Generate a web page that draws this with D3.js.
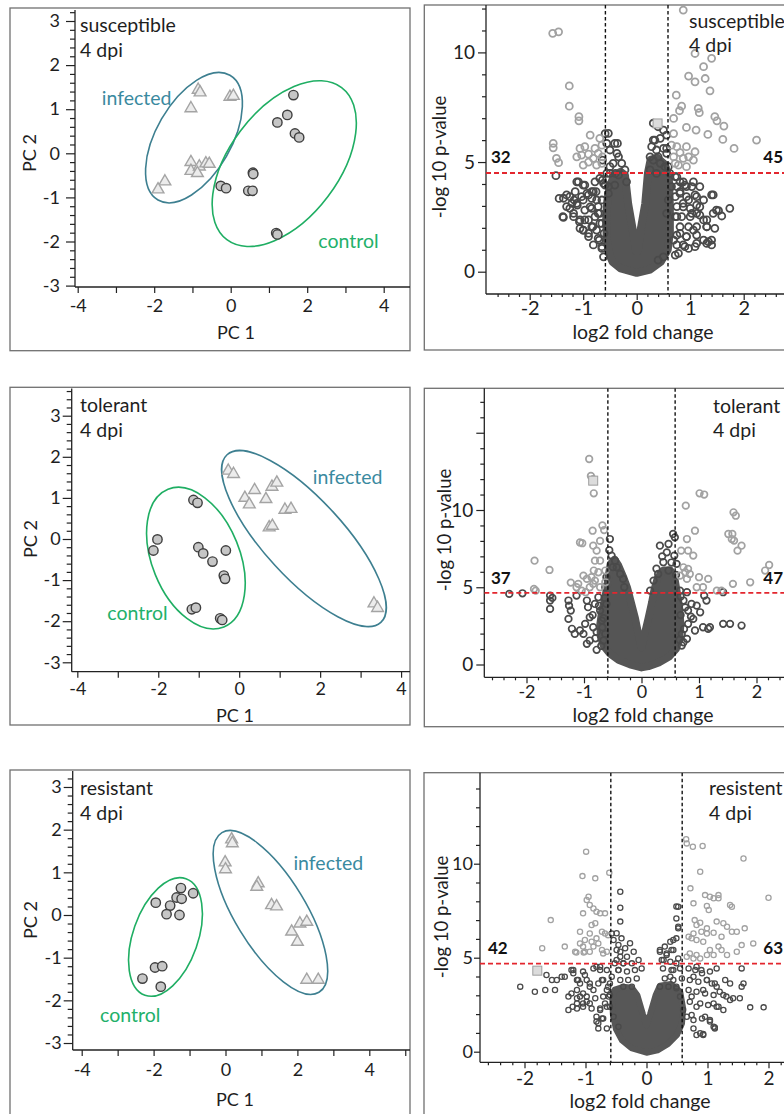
<!DOCTYPE html>
<html><head><meta charset="utf-8">
<script src="https://cdn.jsdelivr.net/npm/d3@7"></script>
<style>
body{margin:0;background:#fff}
svg{display:block;font-family:Lato,"Open Sans",sans-serif}
</style></head><body>
<svg id="c" width="784" height="1114"></svg>
<script>
// ---------------- PCA data (PC1, PC2) ----------------
const susControl = [[1.64,1.32],[1.48,0.87],[1.22,0.70],[1.68,0.45],[1.79,0.36],[0.58,-0.44],[0.59,-0.47],[-0.26,-0.74],[-0.12,-0.79],[0.46,-0.85],[0.57,-0.85],[1.19,-1.81],[1.22,-1.84]];
const susInfected = [[-0.85,1.44],[-0.80,1.38],[-1.04,1.02],[-0.02,1.28],[0.07,1.30],[-1.04,-0.20],[-1.04,-0.40],[-0.82,-0.30],[-0.87,-0.45],[-0.65,-0.23],[-0.56,-0.24],[-1.72,-0.64],[-1.90,-0.82]];
const susEllipseControl = [[2.90,1.49],[-0.10,-1.96],0.574];
const susEllipseInfected = [[-0.02,1.77],[-1.90,-1.06],0.52];

const tolControl = [[-1.13,0.95],[-1.03,0.88],[-2.02,-0.01],[-2.12,-0.28],[-1.01,-0.20],[-0.89,-0.35],[-0.66,-0.55],[-0.33,-0.28],[-0.38,-0.89],[-0.35,-0.97],[-1.17,-1.71],[-1.07,-1.67],[-0.47,-1.93],[-0.42,-1.97]];
const tolInfected = [[-0.27,1.66],[-0.14,1.58],[0.14,1.00],[0.25,0.84],[0.38,1.19],[0.66,0.97],[0.81,1.27],[0.93,1.37],[1.13,0.71],[1.28,0.73],[0.74,0.28],[0.82,0.32],[3.33,-1.57],[3.42,-1.68]];
const tolEllipseControl = [[-1.76,1.21],[-0.38,-2.14],0.59];
const tolEllipseInfected = [[-0.30,2.05],[3.50,-2.03],0.347];

const resControl = [[-1.94,0.29],[-1.54,0.22],[-1.64,0.02],[-1.36,0.41],[-1.24,0.63],[-1.22,0.38],[-1.28,0.00],[-0.90,0.51],[-2.31,-1.49],[-1.96,-1.23],[-1.76,-1.20],[-1.80,-1.68]];
const resInfected = [[0.17,1.77],[0.19,1.68],[-0.01,1.23],[0.00,1.07],[0.91,0.74],[0.87,0.66],[1.28,0.23],[1.42,0.20],[1.84,-0.39],[2.00,-0.63],[2.07,-0.20],[2.26,-0.16],[2.26,-1.52],[2.58,-1.52]];
const resEllipseControl = [[-1.10,0.85],[-2.24,-1.88],0.527];
const resEllipseInfected = [[-0.10,1.93],[2.60,-1.81],0.379];

const pcaXTicks = [-4,-3,-2,-1,0,1,2,3,4,5];
const pcaXLabels = [-4,-2,0,2,4];
const pcaYTicks = [-3,-2,-1,0,1,2,3];

// ---------------- Volcano data (log2 fold change, -log10 p) ----------------
const volSusLight = [[-1.57,10.87],[-1.46,10.94],[-1.26,8.47],[-1.26,7.55],[-1.08,7.07],[-1.08,6.88],[-1.56,5.85],[-1.56,5.65],[-1.50,5.17],[-1.46,4.97],[-0.87,6.23],[-0.69,6.08],[-0.97,5.70],[-1.12,5.24],[-1.03,5.32],[-0.90,5.36],[-0.81,5.17],[-0.72,5.40],[-0.64,5.24],[-1.00,4.86],[-0.90,5.00],[-0.75,4.86],[-0.65,4.94],[-0.78,5.62],[-0.65,5.77],[-1.06,5.62],
[0.87,11.93],[1.09,9.95],[1.40,9.73],[1.25,9.35],[0.97,8.92],[1.09,8.66],[1.28,8.81],[1.37,8.25],[0.74,8.05],[0.84,7.55],[0.80,7.34],[1.15,7.45],[1.17,7.25],[0.69,6.99],[1.46,7.07],[1.50,6.88],[1.63,6.64],[0.93,6.58],[1.11,6.46],[1.33,6.26],[1.61,6.03],[2.24,6.00],[1.82,5.62],[0.93,5.70],[1.09,5.47],[0.81,5.43],[0.69,5.24],[0.87,5.17],[0.97,5.24],[1.06,5.09],[0.72,4.94],[0.78,4.86],[0.93,4.79],[0.65,5.77],[0.75,5.70],[0.69,6.30]];
const volSusDark = [[-1.51,4.38],[-1.45,3.34],[-1.31,3.50],[-1.37,2.48],[-1.12,4.10],[-1.17,3.27],[-1.18,2.66],[-1.11,3.04],[-1.00,3.95],[-1.03,3.42],[-0.93,3.57],[-1.07,2.28],[-1.00,1.90],[-0.97,2.36],[-0.87,2.96],[-0.82,2.05],[-0.90,1.75],[-0.76,3.65],[-0.84,3.34],[-0.72,2.66],[-0.69,2.20],[-1.21,3.12],[-1.25,2.89],[-0.78,4.10],
[-1.37,3.35],[-1.25,3.42],[-1.15,3.65],[-1.31,2.97],[-1.12,3.12],[-1.00,3.27],[-0.90,3.50],[-0.81,3.65],[-0.75,3.27],[-0.97,2.81],[-0.84,2.89],[-0.72,2.97],[-1.18,2.51],[-1.06,2.36],[-0.90,2.36],[-0.78,2.51],[-0.69,2.66],[-1.38,2.51],[-1.00,1.90],[-0.84,2.05],[-0.75,1.90],[-0.65,2.20],[-0.72,1.52],[-0.81,1.22],[-0.65,1.14],[-0.90,1.60],[-1.06,1.98],[-0.62,0.68],[-0.84,3.65],[-0.97,3.95],[-1.09,4.10],[-0.62,4.03],[-0.69,4.26],
[-0.53,6.31],[-0.41,5.85],[-0.50,5.55],[-0.34,5.24],[-0.28,4.94],[-0.44,4.94],[-0.50,4.48],[-0.34,4.41],[-0.22,4.64],[-0.19,4.10],[-0.41,3.95],[-0.53,3.88],[-0.59,6.30],[-0.56,5.85],[-0.64,5.09],[-0.50,4.79],[-0.40,4.48],[-0.36,5.85],[-0.37,5.40],[-0.56,4.48],[-0.59,3.95],[-0.65,3.27],[-0.64,4.18],[-0.53,3.57],[-0.65,1.06],[-0.61,1.75],[-0.70,1.44],
[0.31,6.77],[0.40,6.61],[0.50,6.46],[0.56,6.23],[0.44,6.08],[0.31,6.00],[0.28,5.70],[0.37,5.55],[0.50,5.62],[0.56,5.40],[0.40,5.24],[0.31,5.09],[0.44,4.94],[0.53,4.79],[0.25,4.64],[0.37,4.48],[0.34,6.00],[0.56,5.62],[0.25,5.24],[0.59,4.79],[0.62,4.48],[0.65,3.88],[0.59,3.27],[0.56,2.66],[0.40,0.53],[0.50,0.68],
[0.72,4.33],[0.81,4.10],[0.75,3.88],[0.90,3.95],[1.03,3.88],[0.81,3.65],[0.72,3.42],[0.93,3.42],[1.09,3.50],[1.25,3.27],[1.40,3.50],[0.87,3.12],[0.75,2.97],[1.00,2.89],[1.12,3.04],[0.72,2.51],[0.84,2.51],[1.00,2.51],[1.18,2.58],[1.31,2.36],[0.81,2.05],[0.97,2.05],[1.12,2.05],[0.75,1.67],[0.93,1.60],[1.12,1.67],[1.31,2.05],[1.46,1.98],[0.75,1.22],[0.90,1.14],[1.09,1.14],[1.31,1.29],[1.40,1.44],[0.72,0.76],[1.49,2.81],
[0.87,4.10],[0.93,3.88],[0.81,3.57],[0.97,3.27],[0.87,2.96],[1.03,2.66],[1.12,3.42],[1.18,2.96],[1.25,2.36],[1.31,2.05],[1.06,1.90],[0.93,1.60],[0.87,1.22],[0.97,1.06],[1.12,1.29],[1.25,1.44],[1.34,1.37],[1.40,1.22],[1.43,3.50],[1.53,2.78],[1.59,2.54],[1.74,2.89],[1.43,2.66],[0.75,2.51],[0.81,1.75],[0.69,1.44],[0.78,0.84],[1.12,2.66],[1.06,4.10],[1.18,3.88],[0.75,4.33]];
const volSusSquare = [[0.39,6.76]];
const volSusCore = [[0,-0.05],[-0.3,0.15],[-0.45,0.45],[-0.52,0.85],[-0.56,1.5],[-0.57,2.4],[-0.55,3.2],[-0.5,3.9],[-0.42,4.4],[-0.3,4.55],[-0.22,4.4],[-0.16,3.1],[-0.08,2.0],[-0.01,0.95],[0.02,0.95],[0.08,2.0],[0.16,3.1],[0.21,4.5],[0.26,5.1],[0.38,5.2],[0.52,4.9],[0.6,4.3],[0.62,3.0],[0.62,1.8],[0.58,1.0],[0.45,0.45],[0.25,0.1]];
const volSusCounts = [32,45];

const volTolLight = [[-0.91,13.30],[-0.88,12.20],[-0.84,12.00],[-0.83,11.08],[-0.68,9.00],[-0.65,8.70],[-0.85,8.66],[-1.07,7.90],[-1.03,7.85],[-0.84,7.69],[-0.72,8.00],[-0.78,7.37],[-0.81,6.72],[-0.72,6.72],[-0.83,6.08],[-0.75,5.97],[-1.01,5.75],[-0.95,5.54],[-0.87,5.65],[-0.81,5.43],[-1.86,6.72],[-1.60,6.12],[-1.87,4.89],[-1.84,4.78],[-1.23,5.30],[-1.10,5.22],[-1.13,5.00],[-0.90,5.00],[-0.84,5.22],[-0.72,5.00],[-0.63,5.32],[-1.04,4.78],[-0.97,4.68],[-0.63,6.08],
[1.01,11.08],[1.09,11.00],[0.77,10.28],[1.60,9.85],[1.64,9.63],[0.93,8.66],[1.51,8.45],[1.58,8.45],[1.57,8.12],[1.61,8.02],[1.74,7.69],[1.67,7.37],[0.79,8.12],[0.81,7.37],[0.90,7.05],[0.69,7.37],[0.73,6.29],[0.81,6.19],[0.76,5.97],[0.84,5.86],[0.67,5.75],[0.79,5.54],[1.00,5.65],[1.16,5.54],[0.96,5.00],[1.07,5.00],[1.31,4.78],[1.39,4.78],[1.59,5.22],[1.89,5.32],[2.15,6.08],[2.22,6.44]];
const volTolDark = [[-2.30,4.57],[-2.07,4.61],[-1.59,4.46],[-1.55,4.31],[-1.59,4.14],[-1.59,3.60],[-1.27,4.14],[-1.26,3.81],[-1.23,3.49],[-1.27,2.95],[-1.21,2.31],[-1.16,1.98],[-1.07,2.20],[-1.01,1.98],[-0.95,1.34],[-0.90,1.55],[-0.78,0.95],[-0.95,4.14],[-0.93,3.71],[-0.90,3.06],[-0.98,2.63],[-0.84,2.41],[-0.81,3.92],[-0.72,3.49],[-0.69,2.84],[-0.75,4.35],[-1.13,4.46],[-0.63,1.98],[-0.66,1.55],[-0.61,3.92],
[-0.85,3.20],[-0.78,2.10],[-0.70,1.20],[-0.66,3.00],[-0.64,4.30],[-0.80,1.70],[-0.68,2.40],[-0.74,3.80],
[0.67,4.78],[0.79,4.68],[0.73,4.14],[0.87,3.92],[0.81,3.49],[0.96,3.81],[1.02,3.38],[0.90,2.95],[0.81,2.63],[0.70,1.98],[0.73,1.44],[0.79,1.66],[0.93,2.20],[1.07,2.41],[1.13,4.14],[1.09,4.46],[1.19,2.41],[1.16,2.31],[1.42,4.68],[1.42,2.63],[1.54,2.63],[1.74,2.52],[0.70,1.23],
[0.68,3.20],[0.74,2.30],[0.66,1.60],[0.76,3.70],[0.68,4.40],[0.86,3.10],
[-0.55,8.12],[-0.52,7.05],[-0.46,6.72],[-0.43,6.29],[-0.37,5.86],[-0.32,5.54],[0.32,7.69],[0.47,7.80],[0.44,7.26],[0.38,6.62],[0.55,8.45],[0.58,8.23],[0.57,7.05],[0.61,6.51],[0.21,5.43],[0.29,5.86],[0.47,6.08],[0.15,4.78],[-0.63,5.00],[-0.61,5.65],
[-0.56,7.40],[-0.50,6.30],[-0.30,5.00],[0.26,6.20],[0.52,6.60],[0.36,7.00],[0.60,5.80]];
const volTolSquare = [[-0.84,11.9]];
const volTolCore = [[0,-0.2],[-0.2,0.0],[-0.4,0.3],[-0.55,0.7],[-0.66,1.2],[-0.71,1.8],[-0.72,2.6],[-0.69,3.4],[-0.64,4.2],[-0.6,5.0],[-0.57,5.8],[-0.54,6.5],[-0.47,6.8],[-0.4,6.4],[-0.32,5.7],[-0.25,5.0],[-0.18,4.0],[-0.11,3.0],[-0.05,1.9],[0,1.1],[0.05,1.9],[0.12,3.0],[0.18,4.0],[0.22,4.8],[0.28,5.6],[0.38,6.1],[0.5,6.1],[0.58,5.5],[0.62,4.6],[0.66,3.6],[0.68,2.6],[0.66,1.7],[0.6,1.0],[0.48,0.5],[0.3,0.12],[0.12,-0.12]];
const volTolCounts = [37,47];

const volResLight = [[-0.99,10.64],[-1.05,9.34],[-0.84,9.22],[-0.61,9.52],[-0.95,8.24],[-0.98,8.07],[-0.93,7.80],[-0.87,7.62],[-0.82,7.45],[-0.76,7.36],[-0.68,7.36],[-1.04,7.36],[-1.57,7.00],[-0.90,6.74],[-0.84,6.83],[-1.09,6.38],[-0.93,6.29],[-0.73,6.38],[-0.68,6.29],[-0.63,6.20],[-1.01,5.94],[-0.90,5.85],[-0.82,6.03],[-1.09,5.76],[-1.04,5.59],[-1.17,5.32],[-1.01,5.32],[-0.87,5.59],[-1.71,5.50],[-1.34,5.59],[-0.79,5.76],[-0.73,5.41],[-0.71,5.23],[-0.65,5.32],[-1.15,5.27],[-1.03,5.27],[-0.93,5.32],
[0.65,11.30],[0.66,11.08],[0.76,10.90],[0.92,10.94],[1.59,10.28],[0.88,9.57],[0.72,8.69],[0.77,7.89],[0.96,8.33],[1.04,8.24],[1.10,8.16],[1.18,8.33],[1.18,8.16],[1.37,7.80],[1.40,7.71],[0.99,7.75],[1.02,7.54],[2.00,8.19],[0.79,7.00],[0.88,6.86],[0.82,6.74],[0.77,6.29],[0.90,6.38],[0.99,6.56],[1.15,6.92],[1.26,6.83],[1.32,6.65],[1.61,6.56],[0.69,6.12],[0.74,6.03],[0.82,5.94],[0.93,5.85],[1.40,6.38],[1.48,6.38],[1.18,5.59],[1.23,5.41],[1.32,5.14],[1.48,5.32],[1.56,5.67],[1.75,5.76],[0.71,5.23],[0.82,5.14],[0.77,4.96],[0.88,4.96],[0.66,5.05],[1.04,5.41],[1.10,5.14],[0.99,5.14],[0.99,6.29],[1.10,6.33],[1.23,6.12]];
const volResDark = [[-2.07,3.46],[-1.83,3.19],[-1.64,4.08],[-1.55,3.81],[-1.47,3.81],[-1.39,3.99],[-1.34,3.99],[-1.50,3.28],[-1.66,3.28],[-1.28,2.93],[-1.23,3.10],[-1.14,2.84],[-1.09,2.93],[-1.04,2.57],[-0.98,2.93],[-1.28,2.22],[-1.14,2.30],[-1.21,2.39],[-1.23,4.34],[-1.20,4.17],[-1.14,3.81],[-1.09,3.63],[-1.04,4.26],[-0.98,3.81],[-0.93,3.63],[-0.87,3.28],[-0.82,4.52],[-0.76,4.34],[-0.93,2.57],[-0.82,1.86],[-0.79,1.51],[-0.73,1.77],[-0.76,2.22],[-0.68,2.57],[-0.65,3.28],[-0.73,3.81],
[-1.20,4.34],[-1.12,3.81],[-1.01,4.08],[-0.87,4.43],[-0.76,4.52],[-0.65,4.34],[-1.14,3.28],[-1.04,3.10],[-0.93,3.46],[-0.79,3.63],[-0.71,3.81],[-0.63,3.46],[-0.98,2.66],[-0.84,2.84],[-0.71,2.93],[-0.60,3.01],[-1.14,2.57],[-1.04,2.39],[-0.90,2.30],[-0.76,2.30],[-0.65,2.39],[-0.82,1.60],[-0.71,1.77],[-0.79,1.24],[-0.65,1.24],
[0.82,4.52],[0.90,4.34],[0.77,3.99],[0.99,3.81],[1.07,3.63],[1.15,3.46],[1.20,3.19],[1.26,3.01],[1.31,2.93],[1.37,2.75],[1.42,2.84],[1.18,2.39],[1.26,2.22],[0.96,1.86],[1.04,1.68],[1.10,1.33],[1.12,1.29],[0.77,1.68],[0.66,1.86],[0.88,0.98],[0.93,0.94],[0.82,2.39],[0.74,2.93],[0.93,3.28],[1.10,2.57],[1.56,4.43],[1.59,3.63],[1.56,3.46],[1.70,2.36],[1.92,2.36],[1.29,3.81],[1.37,3.63],[1.53,2.84],
[0.69,4.43],[0.80,4.34],[0.91,4.17],[1.04,4.26],[1.15,4.43],[0.71,3.81],[0.85,3.72],[0.99,3.81],[1.12,3.63],[0.69,3.28],[0.82,3.19],[0.96,3.10],[1.10,3.01],[0.71,2.66],[0.88,2.57],[1.01,2.48],[1.15,2.39],[0.74,1.95],[0.91,1.77],[1.04,1.60],[0.77,1.24],[0.82,0.89],[0.93,0.89],[1.12,1.24],
[-0.57,6.29],[-0.54,5.94],[-0.49,5.41],[-0.43,5.05],[-0.38,4.70],[-0.52,4.70],[-0.46,4.34],[-0.57,3.99],[-0.60,3.63],[-0.62,2.93],[-0.60,2.39],[-0.54,1.86],[-0.46,1.33],[-0.43,6.92],[-0.43,8.51],[-0.43,7.66],
[-0.49,6.30],[-0.41,6.03],[-0.46,5.68],[-0.35,5.50],[-0.27,5.77],[-0.43,5.32],[-0.32,5.05],[-0.21,5.32],[-0.49,4.88],[-0.38,4.70],[-0.24,4.70],[-0.13,4.88],[-0.46,4.34],[-0.32,4.26],[-0.19,4.34],[-0.08,4.43],[-0.43,3.81],[-0.30,3.81],[-0.16,3.90],[-0.38,3.46],[-0.24,3.46],
[0.52,7.71],[0.52,6.56],[0.49,7.09],[0.44,5.94],[0.41,5.41],[0.33,5.23],[0.49,4.70],[0.44,4.34],[0.39,3.99],[0.49,3.46],[0.55,2.93],[0.60,2.22],[0.28,4.88],[0.22,5.32],
[0.22,5.41],[0.30,5.59],[0.39,5.85],[0.49,6.03],[0.44,5.41],[0.33,5.14],[0.25,4.88],[0.39,4.79],[0.52,4.96],[0.27,4.43],[0.41,4.34],[0.55,4.43],[0.30,3.90],[0.44,3.81],[0.58,3.90],[0.22,3.46],[0.36,3.46],[0.49,3.37],[0.52,6.65],[0.49,7.72]];
const volResSquare = [[-1.79,4.31]];
const volResCore = [[0,-0.05],[-0.25,0.2],[-0.4,0.6],[-0.5,1.2],[-0.55,2.0],[-0.56,2.8],[-0.52,3.3],[-0.38,3.45],[-0.24,3.4],[-0.15,3.0],[-0.06,2.0],[0,1.4],[0.06,2.0],[0.15,3.0],[0.22,3.5],[0.4,3.6],[0.55,3.2],[0.6,2.3],[0.58,1.5],[0.5,0.9],[0.35,0.4],[0.18,0.08]];
const volResCounts = [42,63];

const foldCut = 0.585;
const pCuts = [4.5, 4.63, 4.68];
const volXLabels = [-2,-1,0,1,2];
const volYLabels = [0,5,10];

// ---------------- drawing ----------------
const svg = d3.select('#c');
const TEAL = '#3a8a9f', TEAL_E = '#3d7f90', GREEN = '#22b06a', GREEN_E = '#1fae63';
const TXT = '#1e1e1e';
const defs = svg.append('defs');

function frame(b){
  svg.append('rect').attr('x',b[0]).attr('y',b[1]).attr('width',b[2]-b[0]).attr('height',b[3]-b[1])
    .attr('fill','none').attr('stroke','#707070').attr('stroke-width',1.3);
}
function styleAxis(a, fs){
  a.select('.domain').remove();
  a.selectAll('line').attr('stroke','#222').attr('stroke-width',1.2);
  a.selectAll('text').attr('fill',TXT).style('font-size',fs+'px').style('font-family','Lato');
}

function drawPCA(L, control, infected, ellC, ellI, title){
  frame(L.box);
  const g = svg.append('g');
  const x = d3.scaleLinear().domain([-4,4]).range([L.xc-4*L.kx, L.xc+4*L.kx]);
  const y = d3.scaleLinear().domain([-3,3]).range([L.yc+3*L.ky, L.yc-3*L.ky]);
  g.append('line').attr('x1',L.ax).attr('x2',L.ax).attr('y1',L.axTop).attr('y2',L.ay).attr('stroke','#222').attr('stroke-width',1.3);
  g.append('line').attr('x1',L.ax).attr('x2',L.box[2]).attr('y1',L.ay).attr('y2',L.ay).attr('stroke','#222').attr('stroke-width',1.3);
  const yMinor = d3.range(-15,19).map(i=>i/5).filter(v=>!Number.isInteger(v) && y(v)>=L.axTop && y(v)<=L.ay);
  const ya1 = g.append('g').attr('transform',`translate(${L.ax},0)`).call(d3.axisLeft(y).tickValues(yMinor).tickSize(5).tickFormat(''));
  const ya2 = g.append('g').attr('transform',`translate(${L.ax},0)`).call(d3.axisLeft(y).tickValues(pcaYTicks).tickSize(9).tickPadding(L.ypad).tickFormat(String));
  const xTicks = pcaXTicks.filter(v=>x(v)>=L.ax && x(v)<=L.box[2]-1);
  const xa = g.append('g').attr('transform',`translate(0,${L.ay})`).call(d3.axisBottom(x).tickValues(xTicks).tickSize(6).tickPadding(L.xpad).tickFormat(d=>pcaXLabels.includes(d)?String(d):''));
  [ya1,ya2,xa].forEach(a=>styleAxis(a,18));
  function ell(e, color){
    const p1=[x(e[0][0]),y(e[0][1])], p2=[x(e[1][0]),y(e[1][1])];
    const cx=(p1[0]+p2[0])/2, cy=(p1[1]+p2[1])/2;
    const a=Math.hypot(p2[0]-p1[0],p2[1]-p1[1])/2;
    const ang=Math.atan2(p2[1]-p1[1],p2[0]-p1[0])*180/Math.PI;
    g.append('ellipse').attr('cx',cx).attr('cy',cy).attr('rx',a).attr('ry',a*e[2])
      .attr('transform',`rotate(${ang},${cx},${cy})`).attr('fill','none').attr('stroke',color).attr('stroke-width',1.6);
  }
  ell(ellI, TEAL_E); ell(ellC, GREEN_E);
  g.selectAll('.tri').data(infected).join('path')
    .attr('d', d3.symbol(d3.symbolTriangle, 60))
    .attr('transform', d=>`translate(${x(d[0])},${y(d[1])})`)
    .attr('fill','#ececec').attr('stroke','#a4a4a4').attr('stroke-width',1.4);
  g.selectAll('.cir').data(control).join('circle')
    .attr('cx',d=>x(d[0])).attr('cy',d=>y(d[1])).attr('r',4.7)
    .attr('fill','#c6c6c6').attr('stroke','#3f3f3f').attr('stroke-width',1.4);
  g.append('text').attr('x',x(L.infLab[0])).attr('y',y(L.infLab[1])).text('infected').attr('fill',TEAL).style('font-size','19.5px');
  g.append('text').attr('x',x(L.conLab[0])).attr('y',y(L.conLab[1])).text('control').attr('fill',GREEN).style('font-size','19.5px');
  g.append('text').attr('x',L.tx).attr('y',L.ty[0]).text(title).attr('fill',TXT).style('font-size','19.5px');
  g.append('text').attr('x',L.tx).attr('y',L.ty[1]).text('4 dpi').attr('fill',TXT).style('font-size','19.5px');
  g.append('text').attr('x',L.xt[0]).attr('y',L.xt[1]).attr('text-anchor','middle').text('PC 1').attr('fill',TXT).style('font-size','18px');
  g.append('text').attr('transform',`translate(${L.yt[0]},${L.yt[1]}) rotate(-90)`).attr('text-anchor','middle').attr('dy','0.35em').text('PC 2').attr('fill',TXT).style('font-size','18px');
}

function drawVolcano(L, idx, dark, light, squares, core, counts, pCut, title){
  frame(L.box);
  const g = svg.append('g');
  const x = d3.scaleLinear().domain([-2,2]).range([L.x0-2*L.kx, L.x0+2*L.kx]);
  const y = d3.scaleLinear().domain([0,10]).range([L.y0, L.y0-10*L.ky]);
  const right = 792;
  const cid = 'clip'+idx;
  defs.append('clipPath').attr('id',cid).append('rect').attr('x',L.ax).attr('y',L.box[1]).attr('width',right-L.ax).attr('height',L.ay-L.box[1]);
  g.append('line').attr('x1',L.ax).attr('x2',L.ax).attr('y1',L.box[1]).attr('y2',L.ay).attr('stroke','#222').attr('stroke-width',1.3);
  g.append('line').attr('x1',L.ax).attr('x2',right).attr('y1',L.ay).attr('y2',L.ay).attr('stroke','#222').attr('stroke-width',1.3);
  const yMax = Math.floor(y.invert(L.box[1]+2));
  const yMinor = d3.range(0,yMax+1).filter(v=>v%5!==0);
  const yMajor = d3.range(0,yMax+1).filter(v=>v%5===0);
  const ya1 = g.append('g').attr('transform',`translate(${L.ax},0)`).call(d3.axisLeft(y).tickValues(yMinor).tickSize(4).tickFormat(''));
  const ya2 = g.append('g').attr('transform',`translate(${L.ax},0)`).call(d3.axisLeft(y).tickValues(yMajor).tickSize(L.ytick).tickPadding(L.ypad).tickFormat(d=>volYLabels.includes(d)?String(d):''));
  const xMinor = d3.range(-15,16).map(i=>i/5).filter(v=>!Number.isInteger(v) && x(v)>L.ax+1 && x(v)<right);
  const xa1 = g.append('g').attr('transform',`translate(0,${L.ay})`).call(d3.axisBottom(x).tickValues(xMinor).tickSize(3).tickFormat(''));
  const xa2 = g.append('g').attr('transform',`translate(0,${L.ay})`).call(d3.axisBottom(x).tickValues(volXLabels).tickSize(6).tickPadding(L.xpad).tickFormat(String));
  [ya1,ya2].forEach(a=>styleAxis(a,L.yfs));
  [xa1,xa2].forEach(a=>styleAxis(a,L.xfs));
  const pg = g.append('g').attr('clip-path',`url(#${cid})`);
  pg.append('path').datum(core)
    .attr('d', d3.line().x(d=>x(d[0])).y(d=>y(d[1])).curve(d3.curveLinearClosed))
    .attr('fill',L.coreFill).attr('stroke',L.coreFill).attr('stroke-width',L.r*2+1).attr('stroke-linejoin','round');
  pg.selectAll('.dk').data(dark).join('circle').attr('cx',d=>x(d[0])).attr('cy',d=>y(d[1])).attr('r',L.r)
    .attr('fill','none').attr('stroke','#4a4a4a').attr('stroke-width',L.sw);
  pg.selectAll('.lt').data(light).join('circle').attr('cx',d=>x(d[0])).attr('cy',d=>y(d[1])).attr('r',L.r)
    .attr('fill','none').attr('stroke','#a2a2a2').attr('stroke-width',L.sw);
  pg.selectAll('.sq').data(squares).join('rect').attr('x',d=>x(d[0])-4.5).attr('y',d=>y(d[1])-4.5).attr('width',9).attr('height',9)
    .attr('fill','#dcdcdc').attr('stroke','#9e9e9e').attr('stroke-width',1);
  [-foldCut, foldCut].forEach(v=>{
    pg.append('line').attr('x1',x(v)).attr('x2',x(v)).attr('y1',L.box[1]).attr('y2',L.ay)
      .attr('stroke','#111').attr('stroke-width',1.4).attr('stroke-dasharray','3.5,2.5');
  });
  pg.append('line').attr('x1',L.ax).attr('x2',right).attr('y1',y(pCut)).attr('y2',y(pCut))
    .attr('stroke','#e3262e').attr('stroke-width',1.8).attr('stroke-dasharray','5,3');
  g.append('text').attr('x',L.c1[0]).attr('y',L.c1[1]).text(String(counts[0])).attr('fill','#111').style('font-size','17px').style('font-weight','bold');
  g.append('text').attr('x',783).attr('y',L.c1[1]).attr('text-anchor','end').text(String(counts[1])).attr('fill','#111').style('font-size','17px').style('font-weight','bold');
  g.append('text').attr('x',L.tx).attr('y',L.ty[0]).text(title).attr('fill',TXT).style('font-size','19.5px');
  g.append('text').attr('x',L.tx).attr('y',L.ty[1]).text('4 dpi').attr('fill',TXT).style('font-size','19.5px');
  g.append('text').attr('x',L.xt[0]).attr('y',L.xt[1]).attr('text-anchor','middle').text('log2 fold change').attr('fill',TXT).style('font-size','19.5px');
  g.append('text').attr('transform',`translate(${L.yt[0]},${L.yt[1]}) rotate(-90)`).attr('text-anchor','middle').attr('dy','0.35em').text('-log 10 p-value').attr('fill',TXT).style('font-size','18.5px');
}

const pcaLayouts = [
  {box:[10,8,410,350.7], xc:230.7, kx:38.25, yc:153.3, ky:44.1, ax:75, ay:287, axTop:10, xpad:6, ypad:6,
   tx:80, ty:[32,57], xt:[236,339], yt:[30,153], infLab:[-3.37,1.10], conLab:[2.29,-2.15]},
  {box:[10,387.3,410,725], xc:239.2, kx:40.47, yc:539, ky:41.1, ax:71.7, ay:671.7, axTop:388.5, xpad:4.5, ypad:2,
   tx:80, ty:[411.7,436.7], xt:[235,721.5], yt:[31,539], infLab:[1.82,1.35], conLab:[-3.26,-1.97]},
  {box:[10,770,410,1125], xc:225.5, kx:35.95, yc:915, ky:42.67, ax:72.7, ay:1050, axTop:771, xpad:7.5, ypad:2,
   tx:80, ty:[795,820], xt:[235,1106], yt:[31,920], infLab:[1.89,1.05], conLab:[-3.49,-2.5]}
];
const volLayouts = [
  {box:[424.3,5,795,350], x0:636.7, kx:53.5, y0:271.7, ky:21.93, ax:486, ay:294, r:3.5, sw:1.8, coreFill:'#555', xfs:20, yfs:19, xpad:1, ytick:8, ypad:3,
   tx:689, ty:[28,52], xt:[643,339], yt:[440,157], c1:[491,163]},
  {box:[424.3,388.3,795,726.7], x0:641.5, kx:57.5, y0:664.5, ky:15.45, ax:484.3, ay:677.3, r:3.3, sw:1.7, coreFill:'#555', xfs:18, yfs:19, xpad:2, ytick:8, ypad:3,
   tx:713, ty:[413,437], xt:[643,722], yt:[445,530], c1:[491,583.5]},
  {box:[424,772.7,795,1125], x0:646.5, kx:61, y0:1051.7, ky:18.8, ax:480, ay:1062.3, r:2.6, sw:1.3, coreFill:'#575757', xfs:19, yfs:18, xpad:3, ytick:6, ypad:1,
   tx:709, ty:[795,820], xt:[640,1108], yt:[442,917], c1:[488,954]}
];

drawPCA(pcaLayouts[0], susControl, susInfected, susEllipseControl, susEllipseInfected, 'susceptible');
drawPCA(pcaLayouts[1], tolControl, tolInfected, tolEllipseControl, tolEllipseInfected, 'tolerant');
drawPCA(pcaLayouts[2], resControl, resInfected, resEllipseControl, resEllipseInfected, 'resistant');
drawVolcano(volLayouts[0], 0, volSusDark, volSusLight, volSusSquare, volSusCore, volSusCounts, pCuts[0], 'susceptible');
drawVolcano(volLayouts[1], 1, volTolDark, volTolLight, volTolSquare, volTolCore, volTolCounts, pCuts[1], 'tolerant');
drawVolcano(volLayouts[2], 2, volResDark, volResLight, volResSquare, volResCore, volResCounts, pCuts[2], 'resistent');
</script>
</body></html>
